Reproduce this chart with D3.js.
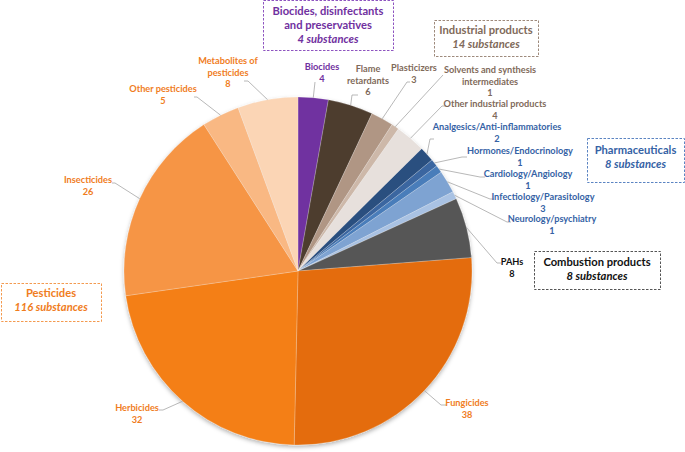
<!DOCTYPE html>
<html><head><meta charset="utf-8">
<script src="https://cdn.jsdelivr.net/npm/d3@7"></script>
<style>
body{margin:0;background:#fff;}
svg{font-family:Lato,"Open Sans",sans-serif;}
</style></head>
<body>
<svg id="chart" width="685" height="452"></svg>
<script>
// ---- data ----
const categories = ["Biocides","Flame retardants","Plasticizers","Solvents and synthesis intermediates","Other industrial products","Analgesics/Anti-inflammatories","Hormones/Endocrinology","Cardiology/Angiology","Infectiology/Parasitology","Neurology/psychiatry","PAHs","Fungicides","Herbicides","Insecticides","Other pesticides","Metabolites of pesticides"];
const values = [4,6,3,1,4,2,1,1,3,1,8,38,32,26,5,8];
const groups = ["bio","ind","ind","ind","ind","pha","pha","pha","pha","pha","com","pes","pes","pes","pes","pes"];
const labelLines = [["Biocides"],["Flame","retardants"],["Plasticizers"],["Solvents and synthesis","intermediates"],["Other industrial products"],["Analgesics/Anti-inflammatories"],["Hormones/Endocrinology"],["Cardiology/Angiology"],["Infectiology/Parasitology"],["Neurology/psychiatry"],["PAHs"],["Fungicides"],["Herbicides"],["Insecticides"],["Other pesticides"],["Metabolites of","pesticides"]];
const groupTitles = {bio:["Biocides, disinfectants","and preservatives"],ind:["Industrial products"],pha:["Pharmaceuticals"],com:["Combustion products"],pes:["Pesticides"]};
const groupCounts = {bio:4,ind:14,pha:8,com:8,pes:116};

// ---- styles ----
const sliceColors = ["#7030A0","#4D3D2F","#B09684","#CDB8A9","#E7E0DC","#2C4F7F","#3A66A0","#4A7DBA","#7EA3D2","#A9C2E3","#575757","#E46C0A","#F47F17","#F69545","#F9B883","#FBD5B5"];
const groupColors = {bio:"#7030A0",ind:"#7F6A5A",pha:"#3562A5",com:"#111111",pes:"#F07D1E"};
const boxStroke = {bio:"#8E55C0",ind:"#9E8A7C",pha:"#5B84C2",com:"#555555",pes:"#F39A50"};

const svg = d3.select("#chart");
const cx = 298, cy = 271, R = 174;

const defs = svg.append("defs");
const f = defs.append("filter").attr("id","sh").attr("x","-10%").attr("y","-10%").attr("width","120%").attr("height","125%");
f.append("feDropShadow").attr("dx",0).attr("dy",2).attr("stdDeviation",2.2).attr("flood-color","#000").attr("flood-opacity",0.3);

const pie = d3.pie().value(d=>d).sort(null);
const arcs = pie(values);
const arc = d3.arc().innerRadius(0).outerRadius(R);
const edge = d3.arc().innerRadius(R).outerRadius(R);

const g = svg.append("g").attr("transform",`translate(${cx},${cy})`);
g.append("g").attr("filter","url(#sh)")
 .selectAll("path").data(arcs).join("path")
 .attr("d",arc).attr("fill",(d,i)=>sliceColors[i])
 .attr("stroke","#ffffff").attr("stroke-opacity",0.35).attr("stroke-width",0.6);

// ---- label layout (text center x, first-line y, leader elbows) ----
const layout = [
 {x:322,y:67,pts:[[315,82]]},
 {x:368,y:69,pts:[[352,95],[358,95]]},
 {x:414,y:68,pts:[[407,82],[410,82]]},
 {x:490,y:70,pts:[[443,75]]},
 {x:495,y:104,pts:[[442,106],[446,106]]},
 {x:497,y:127,pts:[[430,139],[434,139]]},
 {x:520,y:151,pts:[[462,157],[467,157]]},
 {x:528,y:174,pts:[[480,177],[485,177]]},
 {x:543,y:197,pts:[[490,199],[494,199]]},
 {x:552,y:219,pts:[[507,222],[511,222]]},
 {x:512,y:262,pts:[[497,263],[501,263]]},
 {x:467,y:403,pts:[[441,405],[446,405]]},
 {x:137,y:408,pts:[[163,410],[159,410]]},
 {x:88,y:180,pts:[[115,183],[112,183]]},
 {x:163,y:89,pts:[[197,97],[194,97]]},
 {x:228,y:61,pts:[[248,81],[244,81]]}
];

const line = d3.line();
arcs.forEach((a,i)=>{
  const c = edge.centroid(a);
  const p0 = [cx+c[0], cy+c[1]];
  svg.append("path").attr("d",line([p0,...layout[i].pts]))
    .attr("fill","none").attr("stroke","#A6A6A6").attr("stroke-width",0.8);
  const lines = labelLines[i].concat([String(values[i])]);
  const t = svg.append("text").attr("text-anchor","middle")
    .attr("font-size",9.2).attr("font-weight",700).attr("fill",groupColors[groups[i]]);
  lines.forEach((s,k)=>{
    t.append("tspan").attr("x",layout[i].x).attr("y",layout[i].y+3.3+k*11.2).text(s);
  });
});

// ---- group boxes ----
const boxes = [
 {k:"bio",x:263,y:0,w:130,h:50,ty:15},
 {k:"ind",x:434,y:20,w:104,h:36,ty:34},
 {k:"pha",x:587,y:138,w:97,h:44,ty:154},
 {k:"com",x:534,y:251,w:126,h:38,ty:266},
 {k:"pes",x:1,y:283,w:100,h:38,ty:297}
];
boxes.forEach(b=>{
  svg.append("rect").attr("x",b.x+0.5).attr("y",b.y+0.5).attr("width",b.w).attr("height",b.h)
    .attr("fill","none").attr("stroke",boxStroke[b.k]).attr("stroke-width",1).attr("stroke-dasharray","2.5,1.5");
  const t = svg.append("text").attr("text-anchor","middle").attr("font-size",11.2).attr("font-weight",700).attr("fill",groupColors[b.k]);
  const ls = groupTitles[b.k];
  ls.forEach((s,k)=>t.append("tspan").attr("x",b.x+b.w/2).attr("y",b.ty+k*14).text(s));
  t.append("tspan").attr("x",b.x+b.w/2).attr("y",b.ty+ls.length*14).attr("font-style","italic").text(groupCounts[b.k]+" substances");
});
</script>
</body></html>
